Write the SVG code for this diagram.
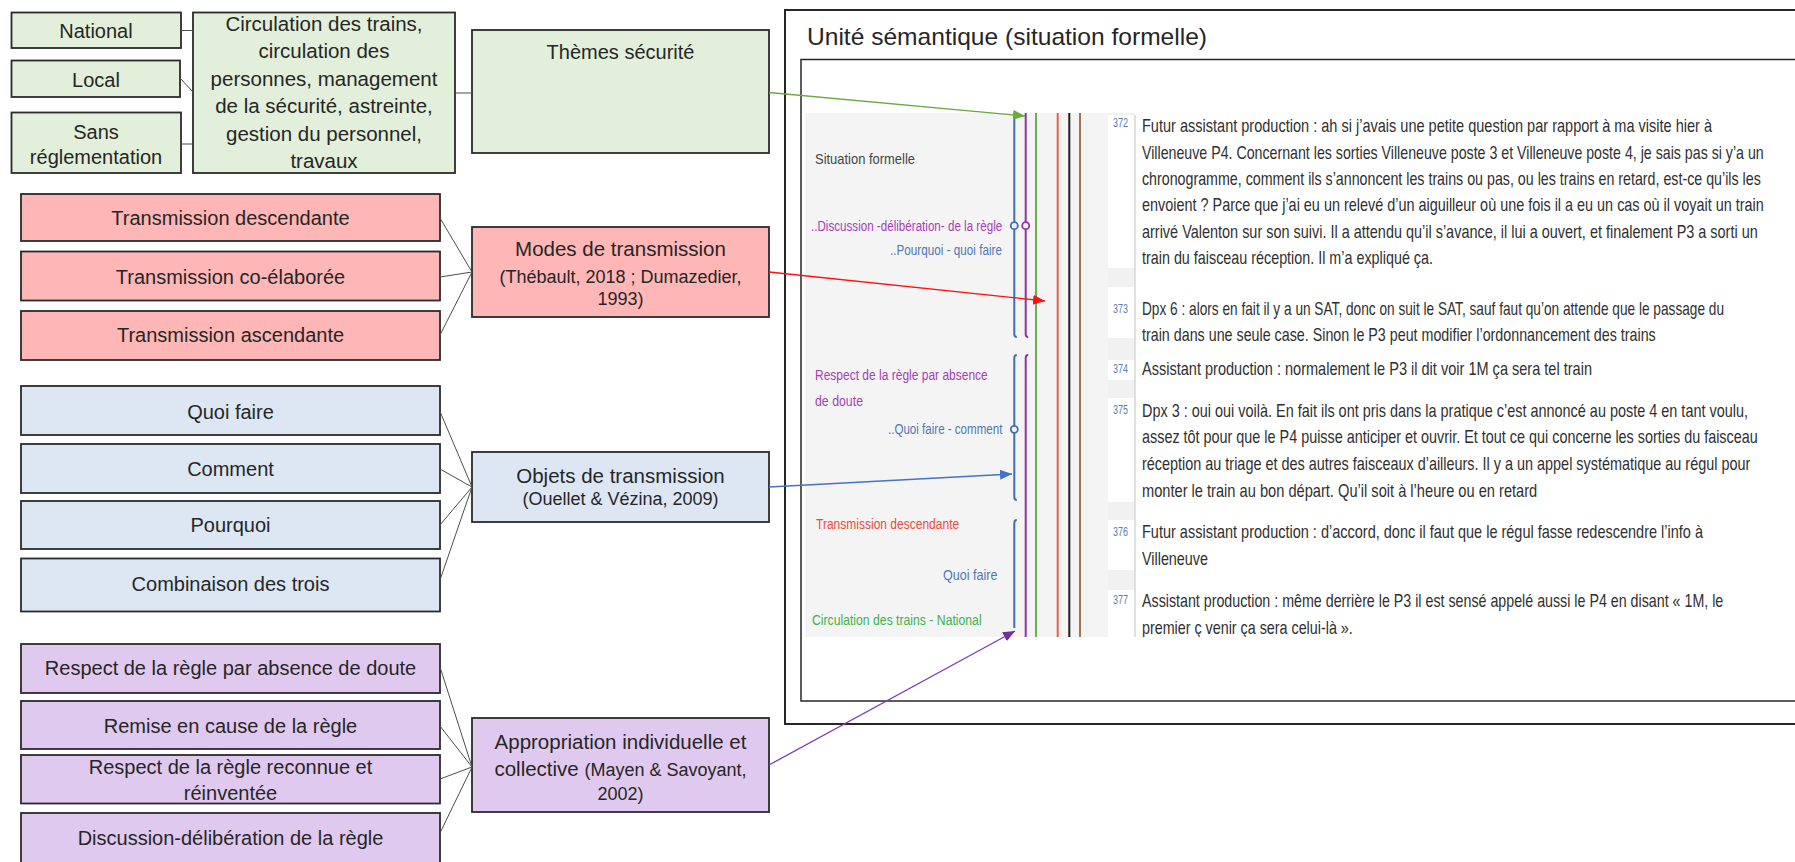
<svg xmlns="http://www.w3.org/2000/svg" width="1795" height="862" viewBox="0 0 1795 862">
<style>
.box{stroke:#2b2b2b;stroke-width:1.8}
.gr{fill:#e2efda}
.rd{fill:#ffb6b6}
.bl{fill:#dce7f3}
.pu{fill:#e0c9ef}
.t{font-family:"Liberation Sans",Arial,sans-serif;font-size:20px;fill:#262626;text-anchor:middle}
.tm{font-size:20.5px}
.ts{font-size:18px}
.lk{stroke:#4d4d4d;stroke-width:1;fill:none}
.tr{font-family:"Liberation Sans",Arial,sans-serif;font-size:18px;fill:#303030}
.num{font-family:"Liberation Sans",Arial,sans-serif;font-size:13px;fill:#5a7db5}
.lab{font-family:"Liberation Sans",Arial,sans-serif;font-size:15px}
.vl{fill:none;stroke-width:2}
</style>
<defs>
<marker id="ag" markerUnits="userSpaceOnUse" markerWidth="13" markerHeight="11" refX="12" refY="5" orient="auto"><path d="M0,0 L12,5 L0,10 z" fill="#6aaa3c"/></marker>
<marker id="ar" markerUnits="userSpaceOnUse" markerWidth="13" markerHeight="11" refX="12" refY="5" orient="auto"><path d="M0,0 L12,5 L0,10 z" fill="#ff1010"/></marker>
<marker id="ab" markerUnits="userSpaceOnUse" markerWidth="13" markerHeight="11" refX="12" refY="5" orient="auto"><path d="M0,0 L12,5 L0,10 z" fill="#4472c4"/></marker>
<marker id="ap" markerUnits="userSpaceOnUse" markerWidth="13" markerHeight="11" refX="12" refY="5" orient="auto"><path d="M0,0 L12,5 L0,10 z" fill="#7030a0"/></marker>
<clipPath id="shot"><rect x="805" y="100" width="985" height="537"/></clipPath>
</defs>
<rect width="1795" height="862" fill="#ffffff"/>

<!-- Right panel -->
<g id="unite-semantique">
<rect x="785" y="10" width="1030" height="714" fill="#ffffff" stroke="#262626" stroke-width="2"/>
<text x="807" y="45" font-family="Liberation Sans, Arial, sans-serif" font-size="24px" fill="#262626" textLength="400" lengthAdjust="spacingAndGlyphs">Unité sémantique (situation formelle)</text>
<rect x="801" y="59.5" width="1010" height="641.5" fill="#ffffff" stroke="#262626" stroke-width="1.5"/>
<g clip-path="url(#shot)">
<rect x="805" y="113" width="303" height="524" fill="#f4f4f4"/>
<rect x="1108" y="113" width="27" height="524" fill="#f1f1f1"/>
<rect x="1108" y="115" width="27" height="153" fill="#ffffff"/>
<rect x="1108" y="287" width="27" height="51" fill="#ffffff"/>
<rect x="1108" y="360" width="27" height="20" fill="#ffffff"/>
<rect x="1108" y="398" width="27" height="104" fill="#ffffff"/>
<rect x="1108" y="520" width="27" height="50" fill="#ffffff"/>
<rect x="1108" y="590" width="27" height="47" fill="#ffffff"/>
<line x1="1135" y1="115" x2="1135" y2="637" stroke="#d6d6d6" stroke-width="1.5"/>
<!-- coding stripes -->
<path class="vl" stroke="#3f6fb5" d="M1014.3,113 V334 q0,3 2.5,3"/>
<path class="vl" stroke="#8f33a6" d="M1025.7,113 V334 q0,3 2.5,3"/>
<path class="vl" stroke="#3f6fb5" d="M1016.8,355 q-2.5,0 -2.5,3 V497 q0,3 2.5,3"/>
<path class="vl" stroke="#8f33a6" d="M1028.2,355 q-2.5,0 -2.5,3 V637"/>
<path class="vl" stroke="#3f6fb5" d="M1016.8,520 q-2.5,0 -2.5,3 V628"/>
<line class="vl" stroke="#6ab04c" x1="1036" y1="113" x2="1036" y2="637"/>
<line class="vl" stroke="#e4604e" x1="1057.7" y1="113" x2="1057.7" y2="637"/>
<line class="vl" stroke="#1e1e1e" x1="1069.3" y1="113" x2="1069.3" y2="637"/>
<line class="vl" stroke="#a8734c" x1="1080" y1="113" x2="1080" y2="637"/>
<circle cx="1014.3" cy="225.7" r="3.5" fill="#f4f4f4" stroke="#3f6fb5" stroke-width="1.8"/>
<circle cx="1025.7" cy="225.7" r="3.5" fill="#f4f4f4" stroke="#8f33a6" stroke-width="1.8"/>
<circle cx="1014.3" cy="429.3" r="3.5" fill="#f4f4f4" stroke="#3f6fb5" stroke-width="1.8"/>
<!-- labels -->
<text class="lab" transform="translate(815 164) scale(0.8 1)" fill="#454545" textLength="125" lengthAdjust="spacingAndGlyphs">Situation formelle</text>
<text class="lab" transform="translate(811 230.5) scale(0.8 1)" fill="#a63fb4" textLength="239" lengthAdjust="spacingAndGlyphs">..Discussion -délibération- de la règle</text>
<text class="lab" transform="translate(890 255) scale(0.8 1)" fill="#4f78b8" textLength="140" lengthAdjust="spacingAndGlyphs">..Pourquoi - quoi faire</text>
<text class="lab" transform="translate(815 380) scale(0.8 1)" fill="#a63fb4" textLength="216" lengthAdjust="spacingAndGlyphs">Respect de la règle par absence</text>
<text class="lab" transform="translate(815 406) scale(0.8 1)" fill="#a63fb4" textLength="60" lengthAdjust="spacingAndGlyphs">de doute</text>
<text class="lab" transform="translate(888 434) scale(0.8 1)" fill="#4f78b8" textLength="143" lengthAdjust="spacingAndGlyphs">..Quoi faire - comment</text>
<text class="lab" transform="translate(816 528.5) scale(0.8 1)" fill="#ec4a3c" textLength="179" lengthAdjust="spacingAndGlyphs">Transmission descendante</text>
<text class="lab" transform="translate(943 580) scale(0.8 1)" fill="#4f78b8" textLength="68" lengthAdjust="spacingAndGlyphs">Quoi faire</text>
<text class="lab" transform="translate(812 624.5) scale(0.8 1)" fill="#3fb24c" textLength="212" lengthAdjust="spacingAndGlyphs">Circulation des trains - National</text>
<!-- transcript -->
<g transform="translate(1113 0) scale(0.75 1)">
<text class="num" x="0" y="127.5" textLength="20" lengthAdjust="spacingAndGlyphs">372</text>
<text class="num" x="0" y="313" textLength="20" lengthAdjust="spacingAndGlyphs">373</text>
<text class="num" x="0" y="373" textLength="20" lengthAdjust="spacingAndGlyphs">374</text>
<text class="num" x="0" y="414" textLength="20" lengthAdjust="spacingAndGlyphs">375</text>
<text class="num" x="0" y="536" textLength="20" lengthAdjust="spacingAndGlyphs">376</text>
<text class="num" x="0" y="604" textLength="20" lengthAdjust="spacingAndGlyphs">377</text>
</g>
<g transform="translate(1142 0) scale(0.75 1)">
<text class="tr" x="0" y="132.5" textLength="760" lengthAdjust="spacingAndGlyphs">Futur assistant production : ah si j’avais une petite question par rapport à ma visite hier à</text>
<text class="tr" x="0" y="159" textLength="829" lengthAdjust="spacingAndGlyphs">Villeneuve P4. Concernant les sorties Villeneuve poste 3 et Villeneuve poste 4, je sais pas si y’a un</text>
<text class="tr" x="0" y="185" textLength="825" lengthAdjust="spacingAndGlyphs">chronogramme, comment ils s’annoncent les trains ou pas, ou les trains en retard, est-ce qu’ils les</text>
<text class="tr" x="0" y="211.5" textLength="829" lengthAdjust="spacingAndGlyphs">envoient ? Parce que j’ai eu un relevé d’un aiguilleur où une fois il a eu un cas où il voyait un train</text>
<text class="tr" x="0" y="238" textLength="821" lengthAdjust="spacingAndGlyphs">arrivé Valenton sur son suivi. Il a attendu qu’il s’avance, il lui a ouvert, et finalement P3 a sorti un</text>
<text class="tr" x="0" y="264" textLength="388" lengthAdjust="spacingAndGlyphs">train du faisceau réception. Il m’a expliqué ça.</text>
<text class="tr" x="0" y="315" textLength="776" lengthAdjust="spacingAndGlyphs">Dpx 6 : alors en fait il y a un SAT, donc on suit le SAT, sauf faut qu’on attende que le passage du</text>
<text class="tr" x="0" y="341.5" textLength="685" lengthAdjust="spacingAndGlyphs">train dans une seule case. Sinon le P3 peut modifier l’ordonnancement des trains</text>
<text class="tr" x="0" y="375.5" textLength="600" lengthAdjust="spacingAndGlyphs">Assistant production : normalement le P3 il dit voir 1M ça sera tel train</text>
<text class="tr" x="0" y="417" textLength="808" lengthAdjust="spacingAndGlyphs">Dpx 3 : oui oui voilà. En fait ils ont pris dans la pratique c’est annoncé au poste 4 en tant voulu,</text>
<text class="tr" x="0" y="443.5" textLength="821" lengthAdjust="spacingAndGlyphs">assez tôt pour que le P4 puisse anticiper et ouvrir. Et tout ce qui concerne les sorties du faisceau</text>
<text class="tr" x="0" y="470.5" textLength="811" lengthAdjust="spacingAndGlyphs">réception au triage et des autres faisceaux d’ailleurs. Il y a un appel systématique au régul pour</text>
<text class="tr" x="0" y="497" textLength="527" lengthAdjust="spacingAndGlyphs">monter le train au bon départ. Qu’il soit à l’heure ou en retard</text>
<text class="tr" x="0" y="538.5" textLength="748" lengthAdjust="spacingAndGlyphs">Futur assistant production : d’accord, donc il faut que le régul fasse redescendre l’info à</text>
<text class="tr" x="0" y="565.5" textLength="88" lengthAdjust="spacingAndGlyphs">Villeneuve</text>
<text class="tr" x="0" y="607" textLength="775" lengthAdjust="spacingAndGlyphs">Assistant production : même derrière le P3 il est sensé appelé aussi le P4 en disant « 1M, le</text>
<text class="tr" x="0" y="634" textLength="281" lengthAdjust="spacingAndGlyphs">premier ç venir ça sera celui-là ».</text>
</g>
</g>
</g>

<!-- Green nodes -->
<g id="national"><rect class="box gr" x="11.5" y="12.5" width="169.5" height="35.5"/><text class="t" x="96" y="37.5">National</text></g>
<g id="local"><rect class="box gr" x="11.5" y="60.5" width="168.5" height="36.5"/><text class="t" x="96" y="86.5">Local</text></g>
<g id="sans-reglementation"><rect class="box gr" x="11.5" y="112.5" width="169.5" height="60.5"/><text class="t" x="96" y="138.5">Sans</text><text class="t" x="96" y="163.5">réglementation</text></g>
<g id="circulation"><rect class="box gr" x="193" y="12.5" width="262" height="160.5"/>
<text class="t tm" x="324" y="30.5">Circulation des trains,</text>
<text class="t tm" x="324" y="58">circulation des</text>
<text class="t tm" x="324" y="85.5">personnes, management</text>
<text class="t tm" x="324" y="113">de la sécurité, astreinte,</text>
<text class="t tm" x="324" y="140.5">gestion du personnel,</text>
<text class="t tm" x="324" y="168">travaux</text></g>
<g id="themes-securite"><rect class="box gr" x="472" y="30" width="297" height="123"/><text class="t" x="620.5" y="58.5">Thèmes sécurité</text></g>

<!-- Red nodes -->
<g id="transmission-descendante"><rect class="box rd" x="21" y="194" width="419" height="47"/><text class="t" x="230.5" y="225">Transmission descendante</text></g>
<g id="transmission-co-elaboree"><rect class="box rd" x="21" y="251.5" width="419" height="49"/><text class="t" x="230.5" y="283.5">Transmission co-élaborée</text></g>
<g id="transmission-ascendante"><rect class="box rd" x="21" y="311" width="419" height="49"/><text class="t" x="230.5" y="342">Transmission ascendante</text></g>
<g id="modes-transmission"><rect class="box rd" x="472" y="227" width="297" height="90"/>
<text class="t tm" x="620.5" y="255.5">Modes de transmission</text>
<text class="t ts" x="620.5" y="283">(Thébault, 2018 ; Dumazedier,</text>
<text class="t ts" x="620.5" y="305">1993)</text></g>

<!-- Blue nodes -->
<g id="quoi-faire"><rect class="box bl" x="21" y="386" width="419" height="49"/><text class="t" x="230.5" y="418.5">Quoi faire</text></g>
<g id="comment"><rect class="box bl" x="21" y="444" width="419" height="49"/><text class="t" x="230.5" y="476">Comment</text></g>
<g id="pourquoi"><rect class="box bl" x="21" y="501" width="419" height="48"/><text class="t" x="230.5" y="532">Pourquoi</text></g>
<g id="combinaison"><rect class="box bl" x="21" y="558.5" width="419" height="53"/><text class="t" x="230.5" y="590.5">Combinaison des trois</text></g>
<g id="objets-transmission"><rect class="box bl" x="472" y="452" width="297" height="70"/>
<text class="t tm" x="620.5" y="483">Objets de transmission</text>
<text class="t ts" x="620.5" y="505">(Ouellet &amp; Vézina, 2009)</text></g>

<!-- Purple nodes -->
<g id="respect-absence-doute"><rect class="box pu" x="21" y="644" width="419" height="49"/><text class="t" x="230.5" y="675">Respect de la règle par absence de doute</text></g>
<g id="remise-en-cause"><rect class="box pu" x="21" y="701" width="419" height="48"/><text class="t" x="230.5" y="732.5">Remise en cause de la règle</text></g>
<g id="respect-reconnue"><rect class="box pu" x="21" y="755" width="419" height="48.5"/><text class="t" x="230.5" y="773.5">Respect de la règle reconnue et</text><text class="t" x="230.5" y="800">réinventée</text></g>
<g id="discussion-deliberation"><rect class="box pu" x="21" y="813" width="419" height="53"/><text class="t" x="230.5" y="845">Discussion-délibération de la règle</text></g>
<g id="appropriation"><rect class="box pu" x="472" y="718" width="297" height="94"/>
<text class="t tm" x="620.5" y="748.5">Appropriation individuelle et</text>
<text class="t tm" x="620.5" y="775.5">collective <tspan class="ts">(Mayen &amp; Savoyant,</tspan></text>
<text class="t ts" x="620.5" y="800">2002)</text></g>

<!-- Connectors -->
<g id="connectors">
<line class="lk" x1="181" y1="30.5" x2="193" y2="30.5"/>
<line class="lk" x1="180" y1="78" x2="193" y2="92"/>
<line class="lk" x1="181" y1="144" x2="193" y2="144"/>
<line class="lk" x1="455" y1="93" x2="472" y2="93"/>
<line class="lk" x1="440" y1="218" x2="472" y2="272"/>
<line class="lk" x1="440" y1="277" x2="472" y2="272"/>
<line class="lk" x1="440" y1="335" x2="472" y2="272"/>
<line class="lk" x1="440" y1="411.5" x2="472" y2="487"/>
<line class="lk" x1="440" y1="469" x2="472" y2="487"/>
<line class="lk" x1="440" y1="525" x2="472" y2="487"/>
<line class="lk" x1="440" y1="580" x2="472" y2="487"/>
<line class="lk" x1="440" y1="667" x2="472" y2="767"/>
<line class="lk" x1="440" y1="726" x2="472" y2="767"/>
<line class="lk" x1="440" y1="779" x2="472" y2="767"/>
<line class="lk" x1="440" y1="833" x2="472" y2="767"/>
<line x1="769" y1="92.5" x2="1025" y2="116" stroke="#6aaa3c" stroke-width="1.3" marker-end="url(#ag)"/>
<line x1="769" y1="272" x2="1045" y2="301" stroke="#ff1010" stroke-width="1.3" marker-end="url(#ar)"/>
<line x1="769" y1="487" x2="1012" y2="474" stroke="#4472c4" stroke-width="1.3" marker-end="url(#ab)"/>
<line x1="769" y1="765" x2="1015" y2="631" stroke="#7d3cb5" stroke-width="1.3" marker-end="url(#ap)"/>
</g>
</svg>
